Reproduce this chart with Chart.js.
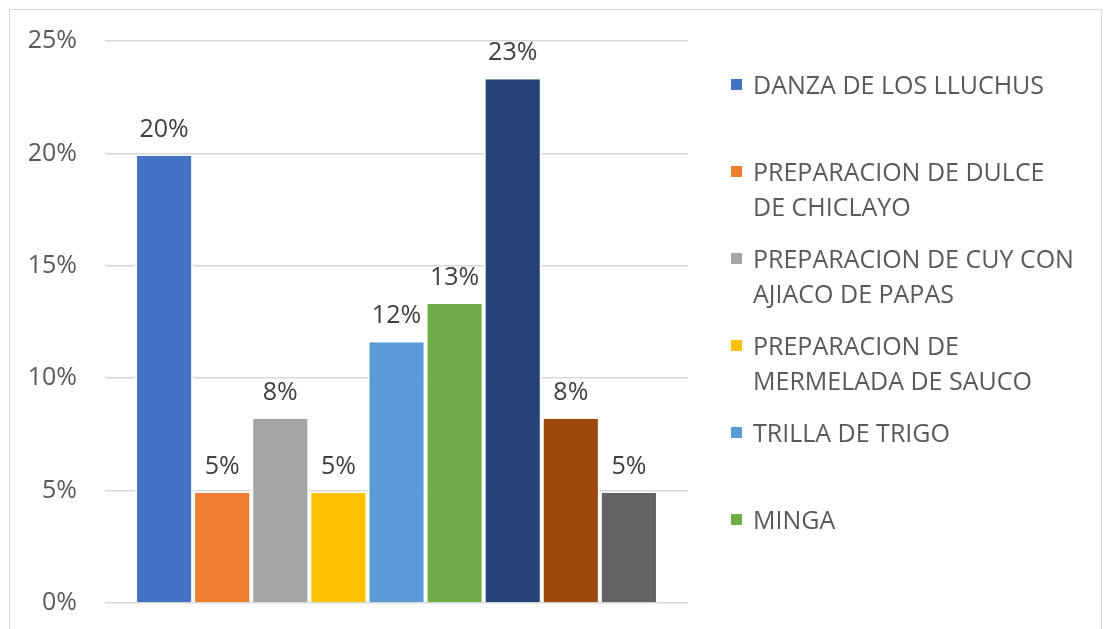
<!DOCTYPE html>
<html>
<head>
<meta charset="utf-8">
<script src="https://cdn.jsdelivr.net/npm/chart.js@4/dist/chart.umd.min.js"></script>
<style>
  html, body { margin: 0; padding: 0; background: #fff; overflow: hidden; }
  #wrap { position: relative; width: 1104px; height: 629px; }
  #frame { position: absolute; left: 9px; top: 9px; width: 1093px; height: 700px; border: 1px solid #d9d9d9; box-sizing: border-box; }
  #chart { position: absolute; left: 0; top: 0; }
  #legend { position: absolute; left: 731px; top: 67px; width: 365px; font-family: "Open Sans", sans-serif; font-size: 25px; color: #595959; }
  .item { position: relative; height: 87px; }
  .box { position: absolute; left: 0; top: 12px; width: 11px; height: 11px; }
  .text { position: absolute; left: 22px; top: 0; width: 326px; line-height: 35px; }
</style>
</head>
<body>
<div id="wrap">
  <div id="frame"></div>
  <canvas id="chart" width="1104" height="629"></canvas>
  <div id="legend"></div>
</div>
<script>
// Chart data
const categories = [''];
const seriesNames = [
  'DANZA DE LOS LLUCHUS',
  'PREPARACION DE DULCE DE CHICLAYO',
  'PREPARACION DE CUY CON AJIACO DE PAPAS',
  'PREPARACION DE MERMELADA DE SAUCO',
  'TRILLA DE TRIGO',
  'MINGA',
  'SERIE 7',
  'SERIE 8',
  'SERIE 9'
];
const seriesValues = [19.9, 4.9, 8.2, 4.9, 11.6, 13.3, 23.3, 8.2, 4.9];
const seriesColors = ['#4472C4', '#ED7D31', '#A5A5A5', '#FFC000', '#5B9BD5', '#70AD47', '#264478', '#9E480E', '#636363'];
const yTicks = [0, 5, 10, 15, 20, 25];
const legendCount = 6; // only the first six fit in the original legend

const FONT = '"Open Sans", sans-serif';

// Value labels above the bars
const barLabels = {
  id: 'barLabels',
  afterDatasetsDraw(chart) {
    const ctx = chart.ctx;
    ctx.save();
    ctx.font = '25px ' + FONT;
    ctx.fillStyle = '#404040';
    ctx.textAlign = 'center';
    ctx.textBaseline = 'alphabetic';
    chart.data.datasets.forEach((ds, i) => {
      chart.getDatasetMeta(i).data.forEach((bar, j) => {
        ctx.fillText(Math.round(ds.data[j]) + '%', bar.x, bar.y - 19);
      });
    });
    ctx.restore();
  }
};

const chart = new Chart(document.getElementById('chart'), {
  type: 'bar',
  data: {
    labels: categories,
    datasets: seriesNames.map((name, i) => ({
      label: name,
      data: [seriesValues[i]],
      backgroundColor: seriesColors[i],
      borderColor: '#ffffff',
      borderWidth: { left: 2, right: 2, top: 0, bottom: 0 },
      categoryPercentage: 0.897,
      barPercentage: 1
    }))
  },
  options: {
    responsive: false,
    animation: false,
    layout: { padding: { left: 0, top: 41, right: 416, bottom: 26 } },
    plugins: {
      legend: { display: false },
      tooltip: { enabled: false }
    },
    scales: {
      x: { display: false },
      y: {
        min: 0,
        max: 25,
        afterFit: (scale) => {
          scale.width = 105;
          // let layout.padding alone decide the plot top/bottom
          scale.paddingTop = 0;
          scale.paddingBottom = 0;
        },
        afterBuildTicks: (scale) => { scale.ticks = yTicks.map(v => ({ value: v })); },
        border: { display: false },
        grid: { color: '#d9d9d9', lineWidth: 1.5, drawTicks: false },
        ticks: {
          padding: 28,
          color: '#595959',
          font: { family: FONT, size: 25 },
          callback: v => v + '%'
        }
      }
    }
  },
  plugins: [barLabels]
});

// HTML legend (wraps long names like the original)
const legend = document.getElementById('legend');
legend.innerHTML = chart.data.datasets.slice(0, legendCount).map(ds => `
  <div class="item">
    <div class="box" style="background:${ds.backgroundColor}"></div>
    <div class="text">${ds.label}</div>
  </div>
`).join('');
</script>
</body>
</html>
